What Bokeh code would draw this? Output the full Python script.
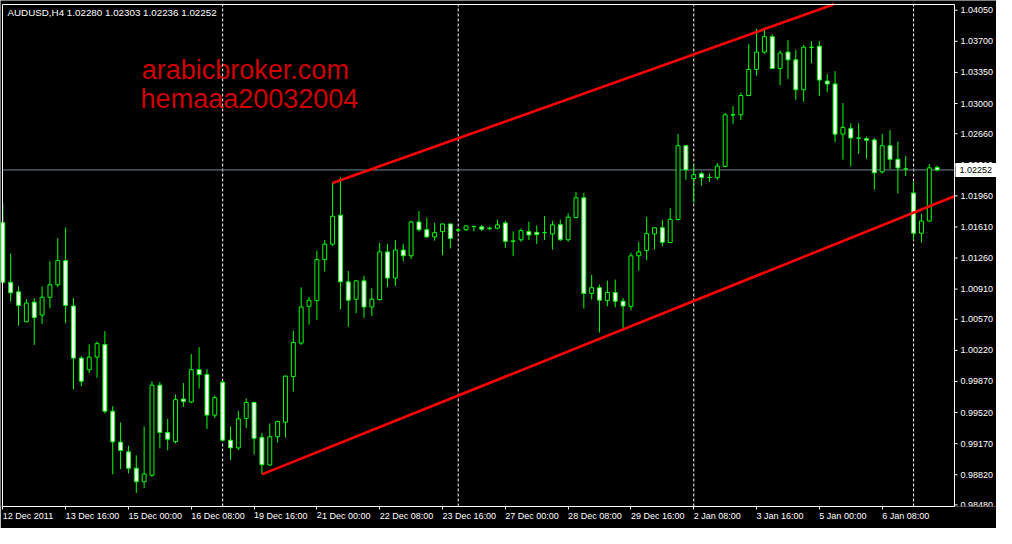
from bokeh.plotting import figure
from bokeh.models import ColumnDataSource, FixedTicker, Range1d
from bokeh.embed import file_html
from bokeh.resources import INLINE
from bokeh.core.properties import value

# ---------------- data ----------------
symbol = "AUDUSD,H4"

opens = [1.01658, 1.00987, 1.00879, 1.00542, 1.00763, 1.00618, 1.00818, 1.00959, 1.01231, 1.00720,
         1.00133, 1.00002, 1.00144, 1.00285, 0.99535, 0.99187, 0.99078, 0.98893, 0.98741, 0.98813,
         0.99828, 0.99296, 0.99193, 0.99672, 0.99639, 1.00002, 0.99948, 0.99491, 0.99861, 0.99209,
         0.99122, 0.99454, 0.99633, 0.99241, 0.98929, 0.99248, 0.99411, 0.99926, 1.00302, 1.00716,
         1.00781, 1.01242, 1.01416, 1.01742, 1.00992, 1.00796, 1.01003, 1.00709, 1.00792, 1.01329,
         1.01035, 1.01350, 1.01285, 1.01666, 1.01579, 1.01498, 1.01557, 1.01644, 1.01577, 1.01579,
         1.01613, 1.01611, 1.01596, 1.01596, 1.01655, 1.01452, 1.01466, 1.01557, 1.01549, 1.01546,
         1.01531, 1.01636, 1.01466, 1.01716, 1.01938, 1.00861, 1.00926, 1.00781, 1.00872, 1.00774,
         1.00716, 1.01285, 1.01346, 1.01531, 1.01601, 1.01435, 1.01694, 1.02525, 1.02155, 1.02209,
         1.02169, 1.02166, 1.02292, 1.02873, 1.02873, 1.03090, 1.03384, 1.03579, 1.03753, 1.03394,
         1.03579, 1.03492, 1.03155, 1.03634, 1.03644, 1.03253, 1.03220, 1.02655, 1.02720, 1.02612,
         1.02604, 1.02590, 1.02231, 1.02525, 1.02372, 1.02264, 1.01992, 1.01539, 1.01677, 1.02280]
highs = [1.01876, 1.01310, 1.00941, 1.00796, 1.00807, 1.00941, 1.01223, 1.01484, 1.01604, 1.00810,
         1.00155, 1.00288, 1.00321, 1.00437, 0.99592, 0.99408, 0.99147, 0.99038, 0.99364, 0.99872,
         0.99864, 0.99451, 0.99723, 0.99853, 1.00180, 1.00256, 1.00006, 0.99712, 0.99886, 0.99364,
         0.99538, 0.99679, 0.99644, 0.99291, 0.99397, 0.99429, 0.99937, 1.00441, 1.00930, 1.00821,
         1.01343, 1.01462, 1.02104, 1.02169, 1.01115, 1.01013, 1.01060, 1.00919, 1.01430, 1.01419,
         1.01462, 1.01419, 1.01680, 1.01789, 1.01713, 1.01658, 1.01646, 1.01646, 1.01596, 1.01624,
         1.01626, 1.01633, 1.01615, 1.01691, 1.01680, 1.01560, 1.01593, 1.01669, 1.01626, 1.01734,
         1.01680, 1.01691, 1.01764, 1.02006, 1.01992, 1.01071, 1.00962, 1.01006, 1.01017, 1.00810,
         1.01321, 1.01441, 1.01723, 1.01604, 1.01691, 1.01821, 1.02658, 1.02531, 1.02300, 1.02231,
         1.02213, 1.02329, 1.02894, 1.02970, 1.03123, 1.03669, 1.03843, 1.03833, 1.03778, 1.03597,
         1.03713, 1.03604, 1.03659, 1.03702, 1.03702, 1.03332, 1.03365, 1.03006, 1.02778, 1.02778,
         1.02626, 1.02612, 1.02658, 1.02702, 1.02571, 1.02408, 1.02122, 1.01756, 1.02318, 1.02303]
lows = [1.00973, 1.00770, 1.00498, 1.00538, 1.00281, 1.00517, 1.00694, 1.00933, 1.00527, 0.99781,
        0.99818, 0.99965, 0.99911, 0.99509, 0.98824, 0.98883, 0.98835, 0.98614, 0.98668, 0.98796,
        0.99117, 0.99096, 0.99172, 0.99585, 0.99625, 0.99791, 0.99335, 0.99459, 0.99201, 0.98987,
        0.99096, 0.99346, 0.99049, 0.98824, 0.98922, 0.99183, 0.99237, 0.99756, 1.00281, 1.00509,
        1.00563, 1.01107, 1.01394, 1.00683, 1.00487, 1.00639, 1.00585, 1.00607, 1.00781, 1.00933,
        1.00944, 1.01223, 1.01248, 1.01557, 1.01487, 1.01455, 1.01292, 1.01368, 1.01549, 1.01564,
        1.01560, 1.01564, 1.01574, 1.01582, 1.01375, 1.01281, 1.01441, 1.01462, 1.01419, 1.01462,
        1.01354, 1.01452, 1.01444, 1.01705, 1.00691, 1.00792, 1.00422, 1.00716, 1.00705, 1.00462,
        1.00672, 1.01118, 1.01237, 1.01357, 1.01394, 1.01430, 1.01683, 1.02140, 1.01883, 1.02075,
        1.02118, 1.02140, 1.02281, 1.02770, 1.02814, 1.03082, 1.03314, 1.03558, 1.03387, 1.03205,
        1.03278, 1.03042, 1.03020, 1.03455, 1.03086, 1.03129, 1.02564, 1.02368, 1.02292, 1.02433,
        1.02379, 1.02031, 1.02209, 1.02264, 1.01988, 1.02183, 1.01459, 1.01433, 1.01673, 1.02236]
closes = [1.00987, 1.00868, 1.00726, 1.00753, 1.00589, 1.00818, 1.00959, 1.01231, 1.00726, 1.00133,
          0.99872, 1.00144, 1.00296, 0.99535, 0.99190, 0.99092, 0.98893, 0.98741, 0.98828, 0.99828,
          0.99296, 0.99220, 0.99665, 0.99644, 1.00002, 0.99948, 0.99491, 0.99687, 0.99209, 0.99122,
          0.99448, 0.99633, 0.99230, 0.98933, 0.99248, 0.99419, 0.99930, 1.00310, 1.00709, 1.00785,
          1.01242, 1.01416, 1.01731, 1.00992, 1.00785, 1.01003, 1.00709, 1.00796, 1.01329, 1.01035,
          1.01350, 1.01285, 1.01666, 1.01579, 1.01498, 1.01546, 1.01644, 1.01481, 1.01574, 1.01622,
          1.01615, 1.01585, 1.01590, 1.01633, 1.01448, 1.01448, 1.01568, 1.01520, 1.01524, 1.01546,
          1.01633, 1.01466, 1.01720, 1.01938, 1.00861, 1.00926, 1.00785, 1.00872, 1.00774, 1.00720,
          1.01285, 1.01329, 1.01535, 1.01601, 1.01437, 1.01696, 1.02525, 1.02253, 1.02199, 1.02166,
          1.02167, 1.02296, 1.02873, 1.02871, 1.03090, 1.03384, 1.03579, 1.03753, 1.03394, 1.03568,
          1.03492, 1.03155, 1.03634, 1.03632, 1.03264, 1.03220, 1.02655, 1.02731, 1.02612, 1.02610,
          1.02586, 1.02220, 1.02525, 1.02372, 1.02275, 1.02262, 1.01539, 1.01677, 1.02275, 1.02252]

date_ticks = [0, 8, 16, 24, 32, 40, 48, 56, 64, 72, 80, 88, 96, 104, 112]
date_labels = ["12 Dec 2011", "13 Dec 16:00", "15 Dec 00:00", "16 Dec 08:00", "19 Dec 16:00",
               "21 Dec 00:00", "22 Dec 08:00", "23 Dec 16:00", "27 Dec 00:00", "28 Dec 08:00",
               "29 Dec 16:00", "2 Jan 08:00", "3 Jan 16:00", "5 Jan 00:00", "6 Jan 08:00"]
price_ticks = [1.04050, 1.03700, 1.03350, 1.03000, 1.02660, 1.02310, 1.01960, 1.01610, 1.01260,
               1.00910, 1.00570, 1.00220, 0.99870, 0.99520, 0.99170, 0.98820, 0.98480]
week_separators = [28, 58, 88, 116]
bid = 1.02252

upper_trend_x = [42, 105.8]
upper_trend_y = [1.02104, 1.04115]
lower_trend_x = [33, 121.2]
lower_trend_y = [0.98824, 1.01955]

watermark_lines = ["arabicbroker.com", "hemaaa20032004"]
watermark_x = [17.7, 17.55]
watermark_y = [1.03376, 1.03050]

# ---------------- layout ----------------
FONT = "Liberation Sans"
X0, X1 = -0.04, 121.21          # chart area (bars)
Y0, Y1 = 0.98462, 1.04115       # chart area (price)
PW, PH = 952, 502               # chart area in px
LPAD, TPAD, RZONE, BZONE = 2, 4, 42, 22
px_x = (X1 - X0) / PW
px_y = (Y1 - Y0) / PH
XA, XB = X0 - LPAD * px_x, X1 + RZONE * px_x
YA, YB = Y0, Y1 + TPAD * px_y

p = figure(frame_width=LPAD + PW + RZONE, frame_height=TPAD + PH,
           x_range=Range1d(XA, XB), y_range=Range1d(YA, YB),
           y_axis_location=None, output_backend="svg", toolbar_location=None,
           background_fill_color="black", border_fill_color="black",
           min_border_left=0, min_border_top=0, min_border_right=0, min_border_bottom=BZONE)
p.outline_line_color = None
p.grid.visible = False

WHITE = "white"
GREEN = "#00ff00"

# watermark
p.text(x=watermark_x, y=watermark_y, text=watermark_lines, text_font=value(FONT),
       text_font_size="27px", text_color="#cc0000", text_align="left",
       text_baseline="alphabetic")

# weekly separators
p.segment(x0=week_separators, y0=[Y0] * len(week_separators),
          x1=week_separators, y1=[Y1] * len(week_separators),
          line_color=WHITE, line_width=1, line_dash="3 2")

# bid line
p.segment(x0=[X0], y0=[bid], x1=[X1], y1=[bid], line_color="#778899", line_width=1)

# candles
bars = list(range(len(opens)))
src = ColumnDataSource(dict(
    x=bars, o=opens, h=highs, l=lows, c=closes,
    top=[max(o, c) for o, c in zip(opens, closes)],
    bottom=[min(o, c) for o, c in zip(opens, closes)],
    fill=["black" if c > o else "white" for o, c in zip(opens, closes)],
))
p.segment("x", "h", "x", "l", source=src, line_color=GREEN, line_width=1)
p.vbar(x="x", top="top", bottom="bottom", width=0.5, fill_color="fill",
       line_color=GREEN, line_width=1, source=src)

# trend lines
p.line(upper_trend_x, upper_trend_y, line_color="#ff0000", line_width=2.6)
p.line(lower_trend_x, lower_trend_y, line_color="#ff0000", line_width=2.6)

# chart border (left, top) and price axis line (right)
p.segment(x0=[X0, X0, X1], y0=[Y0, Y1, Y0], x1=[X0, X1, X1], y1=[Y1, Y1, Y1],
          line_color=WHITE, line_width=1)

# price scale: ticks and labels
n = len(price_ticks)
p.segment(x0=[X1] * n, y0=price_ticks, x1=[X1 + 3 * px_x] * n, y1=price_ticks,
          line_color=WHITE, line_width=1)
p.text(x=[X1] * n, y=price_ticks, text=[f"{t:.5f}" for t in price_ticks], x_offset=6,
       text_font=value(FONT), text_font_size="9px", text_color=WHITE,
       text_align="left", text_baseline="middle")

# bid price tag
p.quad(left=[X1 + 1 * px_x], right=[XB], top=[bid + 7 * px_y], bottom=[bid - 7 * px_y],
       fill_color="white", line_color=None)
p.text(x=[X1], y=[bid], text=[f"{bid:.5f}"], x_offset=5, text_font=value(FONT),
       text_font_size="9px", text_color="black", text_align="left", text_baseline="middle")

# header
hdr = f"{symbol}  {opens[-1]:.5f} {highs[-1]:.5f} {lows[-1]:.5f} {closes[-1]:.5f}"
p.text(x=[X0], y=[Y1], text=[hdr], x_offset=5, y_offset=8, text_font=value(FONT),
       text_font_size="9.8px", text_color=WHITE, text_align="left", text_baseline="middle")

# time axis (Bokeh axis, labels left-aligned at ticks)
xa = p.xaxis[0]
xa.ticker = FixedTicker(ticks=date_ticks)
xa.major_label_overrides = dict(zip(date_ticks, date_labels))
xa.major_label_orientation = -0.0001
xa.bounds = (X0, X1)
xa.axis_line_color = WHITE
xa.major_tick_line_color = WHITE
xa.major_tick_out = 3
xa.major_tick_in = 0
xa.minor_tick_line_color = None
xa.major_label_text_color = WHITE
xa.major_label_text_font = FONT
xa.major_label_text_font_size = "9px"
xa.major_label_standoff = 6

open("out.html", "w").write(file_html(p, INLINE))
